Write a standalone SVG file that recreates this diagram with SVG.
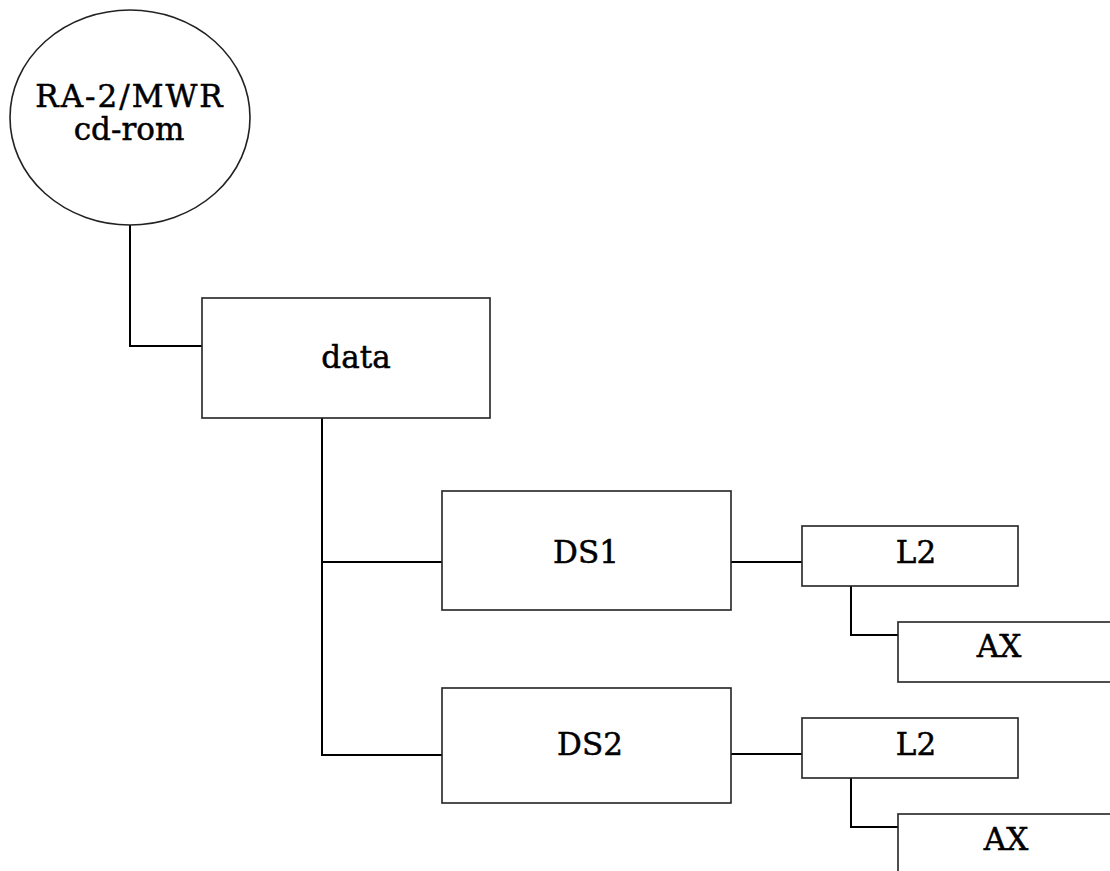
<svg xmlns="http://www.w3.org/2000/svg" width="1110" height="871" viewBox="0 0 1110 871">
<style>
.box{fill:#fff;stroke:#222;stroke-width:1.6}
.lbl{font-family:"DejaVu Serif","Liberation Serif",serif;font-size:31px;fill:#000;stroke:#000;stroke-width:0.5;text-anchor:middle}
.con{fill:none;stroke:#000;stroke-width:2}
</style>
<rect width="1110" height="871" fill="#fff"/>
<g id="connectors">
<polyline class="con" points="130,225 130,346 202,346"/>
<polyline class="con" points="322,418 322,755 442,755"/>
<line class="con" x1="322" y1="562" x2="442" y2="562"/>
<line class="con" x1="731" y1="562" x2="802" y2="562"/>
<polyline class="con" points="851,586 851,635 898,635"/>
<line class="con" x1="731" y1="754" x2="802" y2="754"/>
<polyline class="con" points="851,778 851,827 898,827"/>
</g>
<g id="cdrom">
<ellipse class="box" cx="130" cy="117.5" rx="120" ry="107.5"/>
<text class="lbl" x="130" y="107" font-size="30" letter-spacing="2">RA-2/MWR</text>
<text class="lbl" x="129" y="140" font-size="30">cd-rom</text>
</g>
<g id="data">
<rect class="box" x="202" y="298" width="288" height="120"/>
<text class="lbl" x="356" y="368">data</text>
</g>
<g id="ds1">
<rect class="box" x="442" y="491" width="289" height="119"/>
<text class="lbl" x="586" y="563">DS1</text>
</g>
<g id="l2a">
<rect class="box" x="802" y="526" width="216" height="60"/>
<text class="lbl" x="916" y="563">L2</text>
</g>
<g id="axa">
<rect class="box" x="898" y="622" width="220" height="60"/>
<text class="lbl" x="999" y="657">AX</text>
</g>
<g id="ds2">
<rect class="box" x="442" y="688" width="289" height="115"/>
<text class="lbl" x="590" y="755">DS2</text>
</g>
<g id="l2b">
<rect class="box" x="802" y="718" width="216" height="60"/>
<text class="lbl" x="916" y="755">L2</text>
</g>
<g id="axb">
<rect class="box" x="898" y="814" width="220" height="70"/>
<text class="lbl" x="1006" y="850">AX</text>
</g>
</svg>
